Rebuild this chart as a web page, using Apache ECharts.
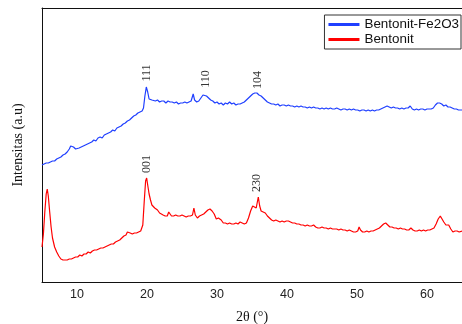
<!DOCTYPE html>
<html>
<head>
<meta charset="utf-8">
<script src="https://cdn.jsdelivr.net/npm/echarts@6/dist/echarts.min.js"></script>
<style>
  html, body { margin: 0; padding: 0; background: #fff; }
  #main { width: 462px; height: 324px; }
</style>
</head>
<body>
<div id="main"></div>
<script>
// 2θ (deg), intensitas (a.u)
var seriesNames = ['Bentonit-Fe2O3', 'Bentonit'];
var xTicks = [10, 20, 30, 40, 50, 60];

var fe2o3X = [5.0,5.3,5.6,5.9,6.2,6.5,6.8,7.1,7.4,7.7,8.0,8.3,8.6,8.9,9.1,9.3,9.5,9.8,10.0,10.3,10.6,10.9,11.2,11.5,11.8,12.1,12.4,12.7,13.0,13.3,13.6,13.9,14.2,14.5,14.8,15.1,15.4,15.7,16.0,16.3,16.6,16.9,17.2,17.5,17.8,18.1,18.4,18.7,19.0,19.3,19.5,19.7,19.9,20.1,20.3,20.5,20.7,20.9,21.2,21.5,21.8,22.1,22.4,22.7,23.0,23.3,23.6,23.9,24.2,24.5,24.8,25.1,25.4,25.7,26.0,26.3,26.6,26.8,27.1,27.4,27.7,28.0,28.2,28.5,28.8,29.1,29.4,29.7,30.0,30.3,30.6,30.9,31.2,31.5,31.8,32.1,32.4,32.7,33.0,33.3,33.6,33.9,34.2,34.5,34.8,35.1,35.4,35.7,36.0,36.3,36.6,36.9,37.2,37.5,37.8,38.1,38.4,38.7,39.0,39.3,39.6,39.9,40.2,40.5,40.8,41.1,41.4,41.7,42.0,42.3,42.6,42.9,43.2,43.5,43.8,44.1,44.4,44.7,45.0,45.3,45.6,45.9,46.2,46.5,46.8,47.1,47.4,47.7,48.0,48.3,48.6,48.9,49.2,49.5,49.8,50.1,50.4,50.7,51.0,51.3,51.6,51.9,52.2,52.5,52.8,53.1,53.4,53.7,54.0,54.3,54.6,54.9,55.2,55.5,55.8,56.1,56.4,56.7,57.0,57.3,57.6,57.9,58.2,58.5,58.8,59.1,59.4,59.7,60.0,60.3,60.6,60.9,61.2,61.5,61.8,62.1,62.4,62.7,63.0,63.3,63.6,63.9,64.2,64.5,64.8,65.0];
var fe2o3Y = [117,118,119,119,120,121,121,123,124,125,127,128,130,133,136,137,135,133,132,134,135,136,137,138,139,140,142,141,144,145,144,147,148,149,150,152,151,154,155,156,158,159,161,162,164,166,167,169,170,171,174,186,195,190,183,185,182,184,181,182,180,181,181,179,181,180,180,179,180,178,179,179,180,179,180,181,188,182,180,181,184,187,189,186,184,182,181,179,180,178,179,177,179,178,180,178,179,177,178,178,179,180,182,184,186,188,189,189,187,186,184,182,180,179,178,178,177,178,176,177,177,176,177,176,176,175,176,175,176,175,175,174,175,174,175,174,174,173,174,173,174,173,174,173,173,174,173,172,173,173,172,173,172,173,172,172,171,172,172,171,172,171,172,171,172,172,173,174,175,176,175,174,175,174,174,173,174,173,174,174,176,173,172,173,172,173,173,172,173,173,173,174,177,179,179,178,176,177,175,175,174,173,173,172,172,172];

var bentX = [5.0,5.2,5.4,5.6,5.75,5.9,6.1,6.3,6.5,6.8,7.1,7.4,7.7,8.0,8.3,8.6,8.9,9.2,9.5,9.8,10.1,10.4,10.7,11.0,11.3,11.6,11.9,12.2,12.5,12.8,13.1,13.4,13.7,14.0,14.3,14.6,14.9,15.2,15.5,15.8,16.1,16.4,16.7,17.0,17.2,17.4,17.6,17.9,18.2,18.5,18.8,19.1,19.4,19.6,19.8,19.95,20.1,20.3,20.5,20.7,20.9,21.1,21.3,21.5,21.8,22.0,22.3,22.6,22.9,23.1,23.3,23.5,23.8,24.1,24.4,24.7,25.0,25.3,25.6,25.9,26.2,26.5,26.7,26.9,27.2,27.5,27.8,28.1,28.4,28.7,29.0,29.3,29.6,29.9,30.2,30.4,30.6,30.9,31.2,31.5,31.8,32.1,32.4,32.7,33.0,33.3,33.6,33.9,34.2,34.5,34.8,35.1,35.3,35.6,35.9,36.1,36.3,36.6,36.9,37.2,37.5,37.8,38.1,38.4,38.7,39.0,39.3,39.6,39.9,40.2,40.5,40.8,41.1,41.4,41.7,42.0,42.3,42.6,42.9,43.2,43.5,43.8,44.1,44.4,44.7,45.0,45.3,45.6,45.9,46.2,46.5,46.8,47.1,47.4,47.7,48.0,48.3,48.6,48.9,49.2,49.5,49.8,50.1,50.3,50.5,50.8,51.1,51.4,51.7,52.0,52.3,52.6,52.9,53.2,53.5,53.8,54.1,54.4,54.7,55.0,55.3,55.6,55.9,56.2,56.5,56.8,57.1,57.4,57.7,58.0,58.3,58.6,58.9,59.2,59.5,59.8,60.1,60.4,60.7,61.0,61.3,61.6,61.9,62.1,62.4,62.7,62.9,63.1,63.4,63.7,64.0,64.3,64.6,65.0];
var bentY = [35,48,70,88,93,86,70,55,44,35,30,26,23,22,22,22,23,23,24,25,25,27,26,28,28,30,29,31,32,32,33,34,34,35,36,37,38,38,40,41,42,44,46,47,50,48,49,48,49,49,50,51,57,80,101,104,97,88,82,77,75,74,73,72,69,67,67,66,66,70,72,66,66,67,66,66,67,66,65,66,66,67,74,67,64,66,67,68,70,72,73,71,68,63,64,66,62,59,59,58,59,58,58,59,58,60,59,58,59,64,71,76,75,74,85,76,71,70,69,66,64,62,61,62,61,60,61,60,61,61,60,59,59,58,58,57,57,56,57,56,56,57,55,54,54,55,54,54,53,54,53,53,53,52,53,52,52,51,52,51,50,50,51,55,52,50,50,51,50,51,51,52,53,54,56,58,59,57,55,55,54,54,53,54,53,53,52,52,54,52,51,51,52,51,52,51,52,52,53,54,58,63,66,65,60,57,55,57,53,50,51,51,50,51];

// Miller index labels: [text, 2θ, intensity at label centre]
var fe2o3Peaks = [['111', 20.0, 209], ['110', 28.4, 203], ['104', 35.9, 202]];
var bentPeaks = [['001', 20.0, 118], ['230', 35.7, 99]];

function pairs(xs, ys) {
    var out = [];
    for (var i = 0; i < xs.length; i++) out.push([xs[i], ys[i]]);
    return out;
}

function peakMarks(list) {
    return {
        symbol: 'circle',
        symbolSize: 0,
        silent: true,
        label: {
            show: true,
            position: 'inside',
            rotate: 90,
            fontFamily: 'Liberation Serif',
            fontSize: 12,
            color: '#333'
        },
        data: list.map(function (p) {
            return { coord: [p[1], p[2]], value: p[0], label: { formatter: p[0] } };
        })
    };
}

var myChart = echarts.init(document.getElementById('main'));
myChart.setOption({
    animation: false,
    grid: { left: 42, right: 0, top: 8, bottom: 42, containLabel: false, outerBoundsMode: 'none' },
    legend: {
        orient: 'vertical',
        top: 15,
        right: 1,
        data: seriesNames,
        icon: 'rect',
        itemWidth: 31,
        itemHeight: 3,
        itemGap: 0,
        padding: [2, 2, 2, 4],
        borderColor: '#333',
        borderWidth: 1,
        borderRadius: 0,
        textStyle: { fontFamily: 'Liberation Sans', fontSize: 13.4, color: '#111', lineHeight: 15 }
    },
    xAxis: [{
        type: 'value',
        min: 5,
        max: 65,
        name: '2θ (°)',
        nameLocation: 'middle',
        nameGap: 28,
        nameTextStyle: { fontFamily: 'Liberation Serif', fontSize: 14, color: '#111' },
        axisLine: { lineStyle: { color: '#111', width: 1 } },
        axisTick: { show: false },
        splitLine: { show: false },
        axisLabel: {
            customValues: xTicks,
            fontFamily: 'Liberation Sans',
            fontSize: 12.5,
            color: '#222',
            margin: 6
        }
    }, {
        type: 'value',
        position: 'top',
        min: 5,
        max: 65,
        axisLine: { lineStyle: { color: '#111', width: 1 } },
        axisTick: { show: false },
        axisLabel: { show: false },
        splitLine: { show: false }
    }],
    yAxis: {
        type: 'value',
        min: 0,
        max: 274,
        name: 'Intensitas (a.u)',
        nameLocation: 'middle',
        nameGap: 17,
        nameTextStyle: { fontFamily: 'Liberation Serif', fontSize: 14, color: '#111' },
        axisLine: { show: true, lineStyle: { color: '#111', width: 1 } },
        axisTick: { show: false },
        axisLabel: { show: false },
        splitLine: { show: false }
    },
    series: [{
        name: seriesNames[0],
        type: 'line',
        showSymbol: false,
        data: pairs(fe2o3X, fe2o3Y),
        lineStyle: { color: '#1f3fff', width: 1.2 },
        itemStyle: { color: '#1f3fff' },
        markPoint: peakMarks(fe2o3Peaks)
    }, {
        name: seriesNames[1],
        type: 'line',
        showSymbol: false,
        data: pairs(bentX, bentY),
        lineStyle: { color: '#ff0000', width: 1.2 },
        itemStyle: { color: '#ff0000' },
        markPoint: peakMarks(bentPeaks)
    }]
});

window.addEventListener('resize', function () { myChart.resize(); });
</script>
</body>
</html>
